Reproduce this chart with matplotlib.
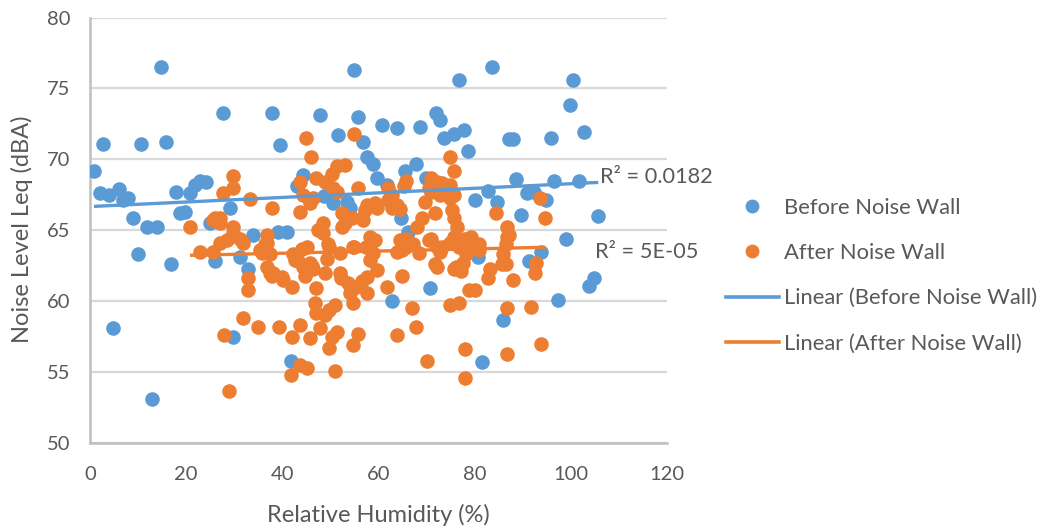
import numpy as np
import matplotlib
matplotlib.use("Agg")
import matplotlib.pyplot as plt
from matplotlib.lines import Line2D

# Relative humidity (%) and noise level Leq (dBA) before the noise wall
before_rh = [0.8, 2.6, 2.1, 4.0, 6.0, 6.9, 7.9, 8.9, 10.6, 11.8, 13.9, 14.7, 15.8, 17.9,
             18.7, 19.7, 20.8, 21.8, 22.8, 24.1, 27.6, 29.1, 37.8, 39.5, 24.9, 4.8, 12.9,
             10.0, 16.8, 26.0, 29.7, 31.2, 32.8, 33.9, 39.0, 40.9, 51.5, 47.8, 55.7, 60.8,
             63.9, 56.7, 57.7, 58.8, 59.6, 61.8, 44.2, 43.0, 48.6, 50.5, 53.4, 54.0, 64.6,
             65.6, 66.2, 68.7, 72.7, 71.9, 73.7, 75.6, 77.7, 78.6, 87.2, 87.9, 95.9, 67.9,
             69.8, 88.7, 96.4, 82.7, 80.0, 84.6, 90.8, 92.4, 89.7, 94.9, 83.7, 76.7, 100.5,
             99.9, 102.8, 101.6, 105.7, 93.7, 91.4, 80.7, 98.9, 104.9, 103.8, 97.4, 85.8,
             81.6, 70.7, 62.9, 41.9, 54.8]
before_leq = [69.2, 71.1, 67.6, 67.5, 67.9, 67.1, 67.3, 65.9, 71.1, 65.2, 65.2, 76.5, 71.2, 67.7,
              66.2, 66.3, 67.6, 68.2, 68.5, 68.4, 73.3, 66.6, 73.3, 71.0, 65.5, 58.1, 53.1,
              63.3, 62.6, 62.8, 57.5, 63.1, 62.3, 64.7, 64.9, 64.9, 71.7, 73.1, 73.0, 72.4,
              72.2, 71.2, 70.2, 69.7, 68.7, 68.2, 68.9, 68.1, 67.4, 66.9, 67.0, 66.6, 65.9,
              69.2, 64.9, 72.3, 72.8, 73.3, 71.5, 71.8, 72.1, 70.6, 71.4, 71.4, 71.5, 69.7,
              68.7, 68.6, 68.5, 67.8, 67.1, 67.0, 67.6, 67.7, 66.1, 67.1, 76.5, 75.6, 75.6,
              73.8, 71.9, 68.5, 66.0, 63.5, 62.8, 63.1, 64.4, 61.6, 61.1, 60.1, 58.7,
              55.7, 60.9, 60.0, 55.8, 76.3]

# Relative humidity (%) and noise level Leq (dBA) after the noise wall
after_rh = [29.7, 29.7, 27.6, 33.2, 37.8, 26.0, 27.0, 20.8, 29.7, 22.8, 25.6, 27.0, 28.5, 29.7,
            31.2, 31.8, 27.0, 25.5, 36.8, 36.8, 35.7, 36.8, 37.8, 32.8, 32.8, 31.8, 34.9,
            39.4, 27.8, 28.9,
            45.0, 45.9, 55.0, 51.3, 53.0, 50.3, 43.6, 47.1, 48.8, 50.5, 51.3, 44.2, 46.3,
            45.7, 55.7, 61.9, 62.9, 65.8, 65.4, 63.8, 59.2, 57.7, 57.1, 56.5, 59.6, 61.9,
            62.9, 43.6, 52.5, 53.0, 54.4, 48.4, 47.4, 36.3, 58.2, 59.2, 64.4, 65.8, 44.0,
            45.1, 49.4, 55.0, 48.4, 52.5, 56.7,
            74.8, 75.8, 71.0, 72.1, 73.3, 74.8, 70.6, 71.0, 73.1, 72.7, 75.8, 74.8, 69.6,
            64.4, 93.5, 94.7, 84.5, 86.8, 87.2, 69.0, 68.1, 71.7, 75.8, 76.4, 75.2, 65.8,
            71.0, 75.8, 77.9, 79.3, 81.0, 73.3, 75.4, 86.6, 86.8, 78.5, 78.9, 76.8, 81.0,
            85.8, 85.6, 83.1, 82.7, 87.9, 92.8, 92.6, 80.0, 76.8, 86.8, 91.8, 77.9, 86.8,
            93.7, 77.9, 77.5, 77.2,
            35.3, 42.2, 43.2, 45.7, 49.8, 49.2, 57.5, 58.8, 58.2, 63.8, 65.8, 68.5, 70.6,
            72.7, 71.7, 74.8, 78.3, 76.2, 80.4, 86.6, 38.0, 39.9, 42.0, 44.7, 46.3, 48.8,
            51.9, 47.1, 46.7, 47.1, 48.8, 49.8, 50.9, 52.3, 53.6, 55.4, 54.6, 57.7, 57.7,
            61.7, 64.8, 66.9, 67.9, 74.8, 42.0, 43.6, 45.7, 47.8, 50.3, 51.3, 49.8, 54.6,
            55.7, 63.8, 43.6, 45.1, 50.9, 70.0, 41.9, 59.6, 56.5, 37.4, 37.4, 40.1, 42.6,
            44.2, 46.1, 51.9, 54.6, 54.0, 64.8, 67.1, 72.1, 72.1, 78.9, 75.8]
after_leq = [68.8, 68.0, 67.6, 67.2, 66.6, 65.9, 65.9, 65.2, 65.2, 63.5, 63.5, 64.1, 64.3, 64.8,
             64.4, 64.1, 65.5, 65.7, 64.7, 64.1, 63.4, 62.4, 61.8, 61.6, 60.8, 58.8, 58.2,
             58.2, 57.6, 53.7,
             71.5, 70.2, 71.8, 69.5, 69.6, 69.0, 68.4, 68.7, 68.4, 68.0, 67.7, 67.5, 67.3,
             66.9, 68.0, 68.0, 67.5, 68.5, 68.1, 66.8, 66.9, 66.8, 66.4, 65.9, 66.6, 67.1,
             66.6, 66.3, 66.2, 65.5, 65.9, 65.5, 65.0, 64.0, 64.5, 64.3, 64.3, 64.1, 63.7,
             63.8, 64.0, 63.8, 64.8, 65.2, 65.7,
             70.2, 69.2, 68.7, 68.4, 68.3, 68.2, 68.0, 67.7, 67.6, 67.5, 67.5, 67.3, 67.0,
             66.5, 67.3, 65.9, 66.2, 65.2, 64.7, 65.9, 65.2, 66.2, 65.9, 65.2, 66.4, 64.4,
             64.4, 64.5, 64.4, 64.5, 64.0, 63.8, 64.1, 64.0, 64.5, 64.4, 64.1, 63.8, 63.6,
             63.3, 62.6, 62.3, 61.6, 61.5, 62.7, 62.0, 60.8, 59.9, 59.5, 59.6, 56.6, 56.3,
             57.0, 54.6, 62.7, 62.1,
             63.6, 63.3, 62.8, 62.7, 63.8, 63.0, 63.8, 63.4, 62.9, 63.5, 63.8, 63.4, 64.3,
             63.5, 62.6, 64.1, 63.3, 62.4, 63.8, 62.6, 62.0, 61.7, 61.0, 61.8, 62.3, 62.0,
             62.0, 60.9, 59.9, 59.2, 59.0, 59.4, 59.7, 61.6, 61.3, 61.0, 59.9, 61.7, 60.6,
             61.0, 61.8, 59.5, 58.2, 59.7, 57.5, 58.3, 57.4, 58.1, 57.5, 57.8, 56.7, 56.9,
             57.7, 57.6, 55.5, 55.3, 55.1, 55.8, 54.8, 62.2, 61.4, 63.3, 62.0, 61.5, 62.9,
             62.4, 62.5, 63.4, 63.8, 60.6, 63.6, 64.0, 63.8, 62.4, 60.8, 62.3]

series_names = ["Before Noise Wall", "After Noise Wall"]
r2_labels = ["R\u00b2 = 0.0182", "R\u00b2 = 5E-05"]

BLUE = "#5B9BD5"
ORANGE = "#ED7D31"
TEXT = "#595959"
FONT = ["Lato", "DejaVu Sans"]

plt.rcParams["font.family"] = FONT

fig = plt.figure(figsize=(10.41, 5.31), dpi=100)
ax = fig.add_axes([0.0865, 0.1657, 0.5542, 0.8013])

ax.scatter(before_rh, before_leq, s=110, color=BLUE, linewidths=0, zorder=3)
ax.scatter(after_rh, after_leq, s=110, color=ORANGE, linewidths=0, zorder=4)

# Linear trend lines over each series' own humidity range
for xs, ys, col in ((before_rh, before_leq, BLUE), (after_rh, after_leq, ORANGE)):
    xs = np.asarray(xs)
    ys = np.asarray(ys)
    k, b = np.polyfit(xs, ys, 1)
    xx = np.array([xs.min(), xs.max()])
    ax.plot(xx, k * xx + b, color=col, lw=2.4, zorder=5, solid_capstyle="butt")

ax.set_xlim(0, 120)
ax.set_ylim(50, 80)
ax.set_xticks(range(0, 121, 20))
ax.set_yticks(range(50, 81, 5))
ax.grid(axis="y", color="#D9D9D9", lw=1.6, zorder=0)
ax.set_axisbelow(True)
for side in ("top", "right"):
    ax.spines[side].set_visible(False)
for side in ("left", "bottom"):
    ax.spines[side].set_color("#BFBFBF")
    ax.spines[side].set_linewidth(1.8)
ax.tick_params(length=0, labelsize=14.5, colors=TEXT)
ax.tick_params(axis="y", pad=14.4)
ax.tick_params(axis="x", pad=16.5)

fig.text(22 / 1041, 1 - 229 / 531, "Noise Level Leq (dBA)", rotation=90,
         ha="center", va="center", fontsize=17, color=TEXT)
fig.text(378 / 1041, 1 - 515 / 531, "Relative Humidity (%)",
         ha="center", va="center", fontsize=17, color=TEXT)

ax.text(106.0, 68.75, r2_labels[0], fontsize=15.7, color=TEXT, ha="left", va="center",
        clip_on=False)
ax.text(105.1, 63.5, r2_labels[1], fontsize=15.7, color=TEXT, ha="left", va="center",
        clip_on=False)

handles = [
    Line2D([], [], ls="none", marker="o", ms=10, color=BLUE, mew=0),
    Line2D([], [], ls="none", marker="o", ms=10, color=ORANGE, mew=0),
    Line2D([], [], color=BLUE, lw=2.6),
    Line2D([], [], color=ORANGE, lw=2.6),
]
labels = series_names + ["Linear (%s)" % n for n in series_names]
leg = fig.legend(handles, labels, loc="center left", bbox_to_anchor=(0.689, 0.481),
                 frameon=False, fontsize=15.8, handlelength=2.4, handletextpad=0.23,
                 labelspacing=1.15, borderaxespad=0)
for t in leg.get_texts():
    t.set_color(TEXT)

fig.savefig("out.png", dpi=100)
